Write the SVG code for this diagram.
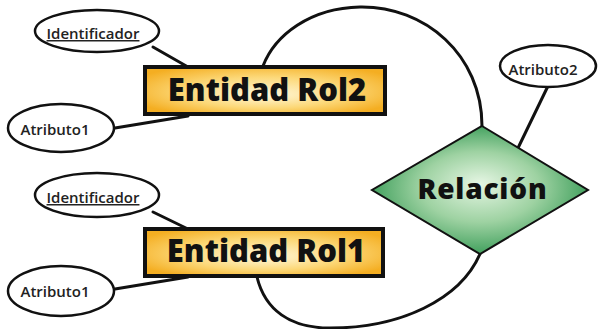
<svg xmlns="http://www.w3.org/2000/svg" width="598" height="329" viewBox="0 0 598 329">
<defs>
<radialGradient id="gOrange" cx="0.5" cy="0.5" r="0.6" fx="0.5" fy="0.6">
<stop offset="0" stop-color="#FFF8DC"/>
<stop offset="0.55" stop-color="#FCD878"/>
<stop offset="1" stop-color="#F4AE22"/>
</radialGradient>
<radialGradient id="gGreen" cx="0.5" cy="0.5" r="0.55" fx="0.5" fy="0.45">
<stop offset="0" stop-color="#E6F6E4"/>
<stop offset="0.5" stop-color="#9ED2A2"/>
<stop offset="1" stop-color="#2F9650"/>
</radialGradient>
<style>
.conn{fill:none;stroke:#111;stroke-width:3;stroke-linecap:round}
.ell{fill:#fff;stroke:#111;stroke-width:2.5}
.ent{fill:url(#gOrange);stroke:#111;stroke-width:4}
.rel{fill:url(#gGreen);stroke:#111;stroke-width:2}
.big{font-family:"Open Sans","DejaVu Sans",sans-serif;font-weight:800;fill:#111;text-anchor:middle}
.small{font-family:"Open Sans","DejaVu Sans",sans-serif;font-size:15px;font-weight:600;fill:#222;text-anchor:middle}
</style>
</defs>
<g id="connectors">
<path class="conn" d="M263,66 C275,35 310,8 360,7 C425,6 482,55 482,126"/>
<path class="conn" d="M257,277 C265,310 290,328 330,328 C400,328 460,300 480,254"/>
<line class="conn" x1="153" y1="47" x2="188" y2="67"/>
<line class="conn" x1="115" y1="128" x2="188" y2="116"/>
<line class="conn" x1="153" y1="212" x2="188" y2="229"/>
<line class="conn" x1="115" y1="289" x2="188" y2="277"/>
<line class="conn" x1="548" y1="86" x2="518" y2="148"/>
</g>
<g id="entidad-rol2">
<rect class="ent" x="145" y="67" width="240" height="47"/>
<text class="big" x="267" y="101" font-size="31">Entidad Rol2</text>
</g>
<g id="entidad-rol1">
<rect class="ent" x="145" y="229" width="238" height="47"/>
<text class="big" x="266" y="262" font-size="31">Entidad Rol1</text>
</g>
<g id="relacion">
<polygon class="rel" points="482,126 588,190 480,254 372,190"/>
<text class="big" x="482.5" y="199" font-size="28" letter-spacing="0.8" fill="#222">Relación</text>
</g>
<g id="identificador-2">
<ellipse class="ell" cx="97" cy="31" rx="62" ry="21"/>
<text class="small" x="93" y="39" text-decoration="underline">Identificador</text>
</g>
<g id="atributo1-2">
<ellipse class="ell" cx="61" cy="128" rx="53" ry="24"/>
<text class="small" x="55" y="135">Atributo1</text>
</g>
<g id="identificador-1">
<ellipse class="ell" cx="97" cy="195" rx="62" ry="22"/>
<text class="small" x="93" y="203" text-decoration="underline">Identificador</text>
</g>
<g id="atributo1-1">
<ellipse class="ell" cx="61" cy="291" rx="53" ry="25"/>
<text class="small" x="55" y="297">Atributo1</text>
</g>
<g id="atributo2">
<ellipse class="ell" cx="548" cy="66" rx="48" ry="21"/>
<text class="small" x="543" y="75">Atributo2</text>
</g>
</svg>
